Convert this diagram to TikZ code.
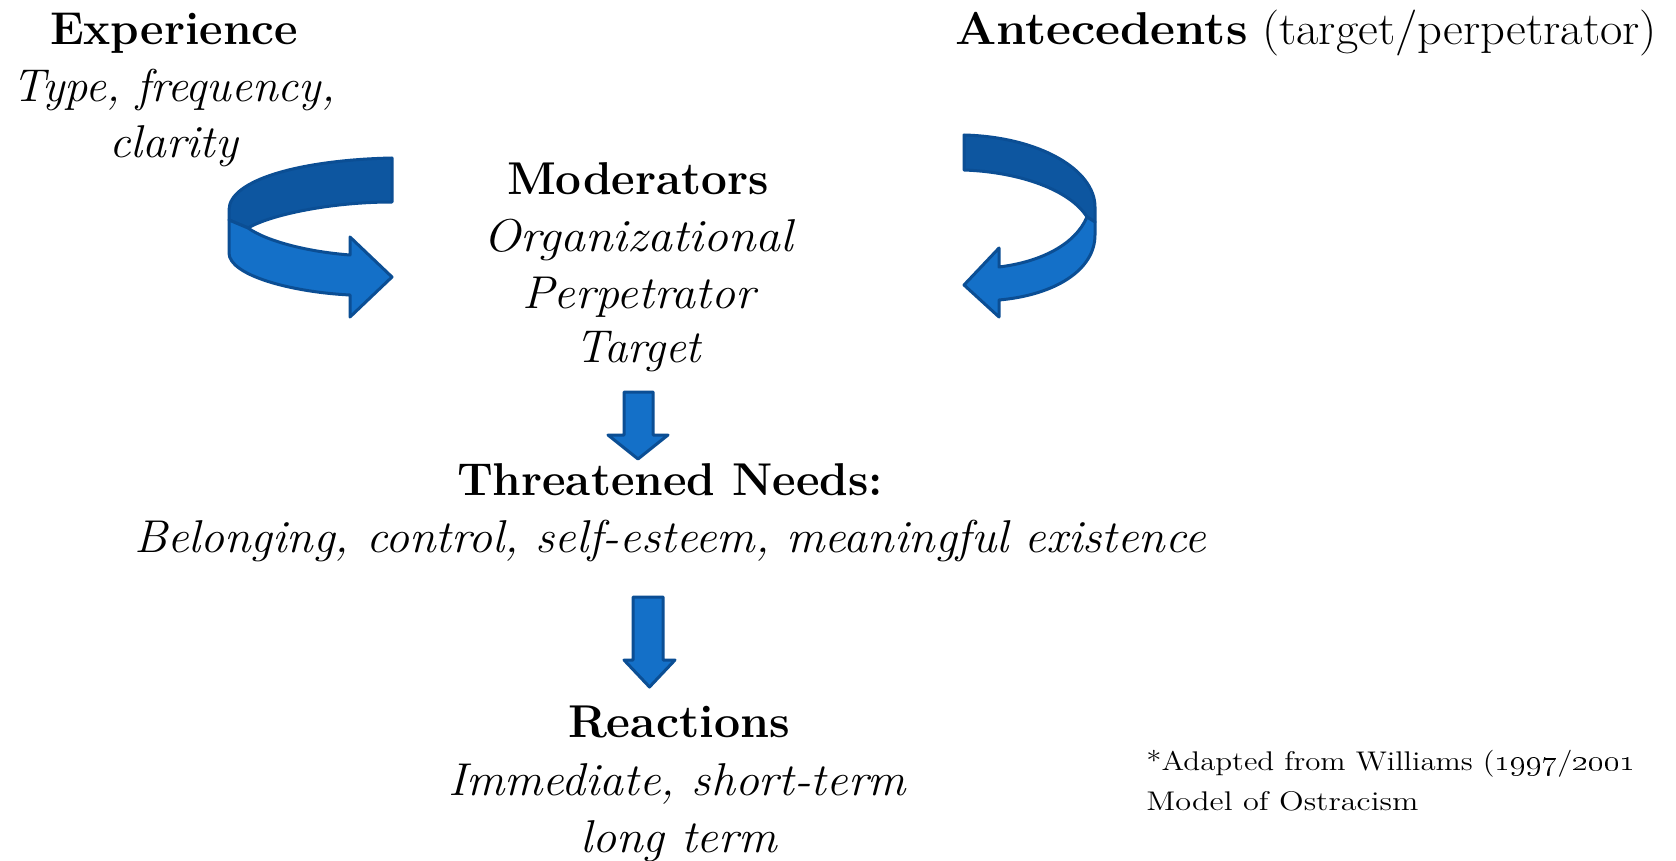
\documentclass[tikz,border=0pt]{standalone}
\usepackage{graphicx}
\definecolor{backblue}{HTML}{0D56A0}
\definecolor{frontblue}{HTML}{1470C8}
\definecolor{edgeblue}{HTML}{0B4E94}
\newlength\fitlen
\newcommand\fitx[2]{\settowidth\fitlen{#2}\pgfmathsetmacro\fitfac{#1/\fitlen}\scalebox{\fitfac}[1]{#2}}
\begin{document}
\begin{tikzpicture}[x=0.5pt,y=-0.5pt,
  txt/.style={inner sep=0pt, anchor=base},
  bfh/.style={txt,font=\fontsize{23}{28}\selectfont\bfseries},
  ith/.style={txt,font=\fontsize{23}{28}\selectfont\itshape},
  rmh/.style={txt,font=\fontsize{23}{28}\selectfont},
  note/.style={inner sep=0pt,anchor=base west,font=\fontsize{13.5}{16}\selectfont},
  backpart/.style={fill=backblue, draw=edgeblue, line width=1.5pt, line join=round},
  frontpart/.style={fill=frontblue, draw=edgeblue, line width=1.5pt, line join=round}]
\useasboundingbox (0,0) rectangle (1676,861);
\fill[white] (0,0) rectangle (1676,861);

% texts
\node[bfh] (exp) at (174,45) {\fitx{124pt}{Experience}};
\node[ith] (exp1) at (174,102) {\fitx{161pt}{Type, frequency,}};
\node[ith] (exp2) at (173.5,158) {\fitx{64.5pt}{clarity}};

\node[rmh] (ant) at (1306,45) {\fitx{351pt}{\textbf{Antecedents} (target/perpetrator)}};

\node[bfh] (mod) at (638,195) {\fitx{131pt}{Moderators}};
\node[ith] (mod1) at (638,252) {\fitx{155pt}{Organizational}};
\node[ith] (mod2) at (638.5,308) {\fitx{116.5pt}{Perpetrator}};
\node[ith] (mod3) at (638,363) {\fitx{63pt}{Target}};

\node[bfh] (need) at (670,495) {\fitx{213pt}{Threatened Needs:}};
\node[ith] (need1) at (670,552) {\fitx{536pt}{Belonging, control, self-esteem, meaningful existence}};

\node[bfh] (reac) at (679,737) {\fitx{111pt}{Reactions}};
\node[ith] (reac1) at (677,795) {\fitx{229pt}{Immediate, short-term}};
\node[ith] (reac2) at (678.5,852) {\fitx{98.5pt}{long term}};

\node[note] (src1) at (1146,770) {\fitx{244.5pt}{*Adapted from Williams (\oldstylenums{1997}/\oldstylenums{2001}}};
\node[note] (src2) at (1146,810) {\fitx{136pt}{Model of Ostracism}};

% left curved arrow
\draw[backpart] (392,158) .. controls (300,160) and (229,180) .. (229,210) -- (229,220) -- (248,228)
  .. controls (270,215) and (330,202) .. (392,202) -- cycle;
\draw[frontpart] (229,220) -- (248,228) .. controls (268,242) and (310,252) .. (350,255) -- (350,237)
  -- (392,277) -- (350,317) -- (350,295) .. controls (290,292) and (229,275) .. (229,253) -- cycle;

% right curved arrow
\draw[backpart] (964,135) .. controls (1040,137) and (1095,170) .. (1095,207) -- (1095,222) -- (1087,217)
  .. controls (1070,190) and (1020,172) .. (964,170) -- cycle;
\draw[frontpart] (1095,222) -- (1087,217) .. controls (1075,245) and (1040,262) .. (999,267) -- (999,248)
  -- (964,285) -- (999,317) -- (999,300) .. controls (1055,295) and (1095,270) .. (1095,235) -- cycle;

% down arrows
\draw[frontpart] (624,392) -- (653,392) -- (653,435) -- (668,435) -- (638,459) -- (608,435) -- (624,435) -- cycle;
\draw[frontpart] (633,597) -- (663,597) -- (663,660) -- (675,660) -- (649.5,687) -- (624,660) -- (633,660) -- cycle;
\end{tikzpicture}
\end{document}
